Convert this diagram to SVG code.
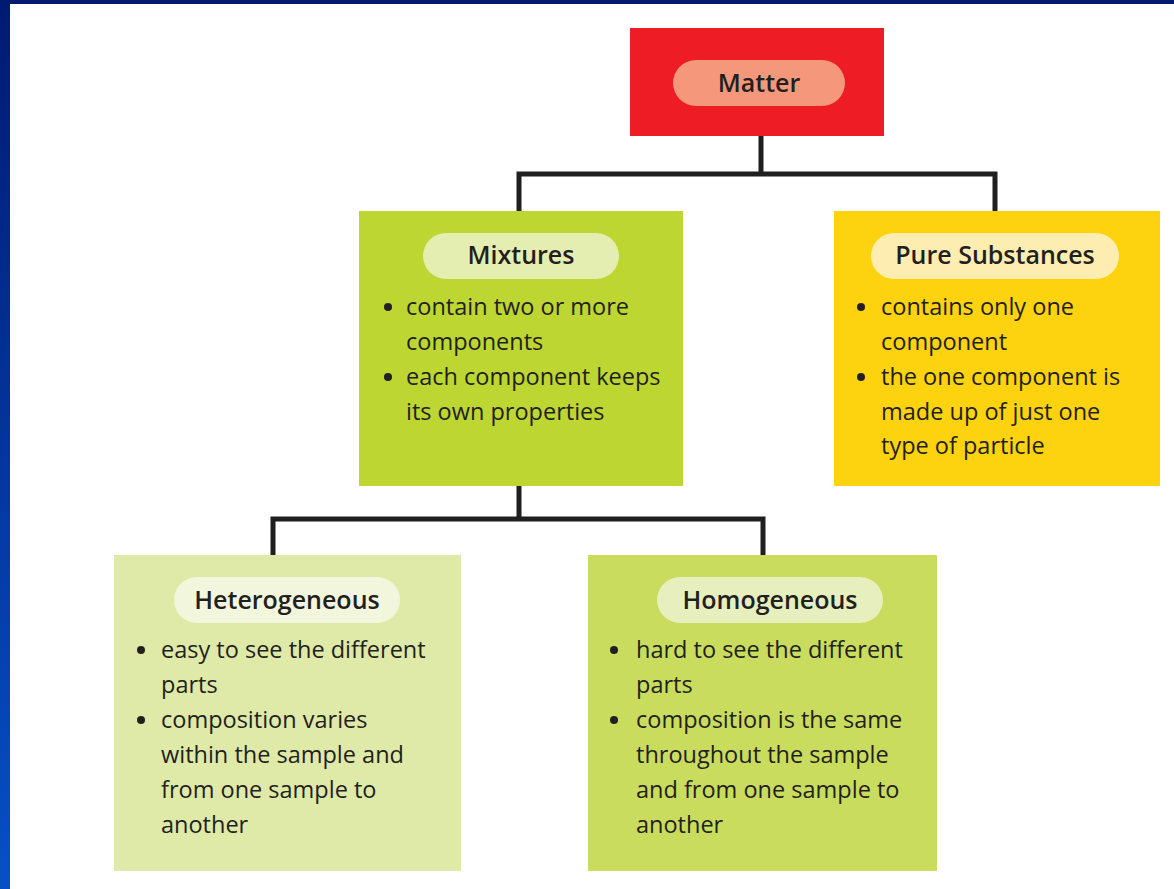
<svg xmlns="http://www.w3.org/2000/svg" width="1174" height="889" viewBox="0 0 1174 889">
<defs>
<linearGradient id="blueV" x1="0" y1="0" x2="0" y2="1">
<stop offset="0" stop-color="#001a72"/>
<stop offset="1" stop-color="#0650c6"/>
</linearGradient>
</defs>
<style>
.title{font-family:"Open Sans","Noto Sans","Liberation Sans",sans-serif;font-weight:600;font-size:25px;fill:#231f20;text-anchor:middle}
.body{font-family:"Open Sans","Noto Sans","Liberation Sans",sans-serif;font-size:23.5px;fill:#231f20}
.dot{fill:#231f20}
.conn{fill:none;stroke:#1f1f1f;stroke-width:5;stroke-linecap:square;stroke-linejoin:miter}
</style>
<rect x="0" y="0" width="1174" height="889" fill="#ffffff"/>
<rect x="0" y="0" width="10" height="889" fill="url(#blueV)"/>
<rect x="0" y="0" width="1174" height="4" fill="#001a72"/>

<g id="connectors">
<path class="conn" d="M761 137 V174 M519 174 H995 M519 174 V210 M995 174 V210"/>
<path class="conn" d="M519 487 V519 M273 519 H763 M273 519 V554 M763 519 V554"/>
</g>

<g id="matter">
<rect x="630" y="28" width="254" height="108" fill="#ee1c25"/>
<rect x="673" y="60" width="172" height="46" rx="23" fill="#f4977a"/>
<text class="title" x="759" y="92">Matter</text>
</g>

<g id="mixtures">
<rect x="359" y="211" width="324" height="275" fill="#bdd631"/>
<rect x="423" y="233" width="196" height="46" rx="23" fill="#e3eeb0"/>
<text class="title" x="521" y="264">Mixtures</text>
<circle class="dot" cx="388" cy="307" r="4"/>
<text class="body" x="406" y="315">contain two or more</text>
<text class="body" x="406" y="350">components</text>
<circle class="dot" cx="388" cy="377" r="4"/>
<text class="body" x="406" y="385">each component keeps</text>
<text class="body" x="406" y="420">its own properties</text>
</g>

<g id="pure-substances">
<rect x="834" y="211" width="326" height="275" fill="#fdd20f"/>
<rect x="871" y="233" width="248" height="46" rx="23" fill="#fdedb0"/>
<text class="title" x="995" y="264">Pure Substances</text>
<circle class="dot" cx="861" cy="307" r="4"/>
<text class="body" x="881" y="315">contains only one</text>
<text class="body" x="881" y="350">component</text>
<circle class="dot" cx="861" cy="377" r="4"/>
<text class="body" x="881" y="385">the one component is</text>
<text class="body" x="881" y="420">made up of just one</text>
<text class="body" x="881" y="454">type of particle</text>
</g>

<g id="heterogeneous">
<rect x="114" y="555" width="347" height="316" fill="#dfe9a8"/>
<rect x="174" y="577" width="226" height="46" rx="23" fill="#f2f6dc"/>
<text class="title" x="287" y="609">Heterogeneous</text>
<circle class="dot" cx="141" cy="650" r="4"/>
<text class="body" x="161" y="658">easy to see the different</text>
<text class="body" x="161" y="693">parts</text>
<circle class="dot" cx="141" cy="720" r="4"/>
<text class="body" x="161" y="728">composition varies</text>
<text class="body" x="161" y="763">within the sample and</text>
<text class="body" x="161" y="798">from one sample to</text>
<text class="body" x="161" y="833">another</text>
</g>

<g id="homogeneous">
<rect x="588" y="555" width="349" height="316" fill="#c9dc5e"/>
<rect x="657" y="577" width="226" height="46" rx="23" fill="#e7efbe"/>
<text class="title" x="770" y="609">Homogeneous</text>
<circle class="dot" cx="614" cy="650" r="4"/>
<text class="body" x="636" y="658">hard to see the different</text>
<text class="body" x="636" y="693">parts</text>
<circle class="dot" cx="614" cy="720" r="4"/>
<text class="body" x="636" y="728">composition is the same</text>
<text class="body" x="636" y="763">throughout the sample</text>
<text class="body" x="636" y="798">and from one sample to</text>
<text class="body" x="636" y="833">another</text>
</g>
</svg>
